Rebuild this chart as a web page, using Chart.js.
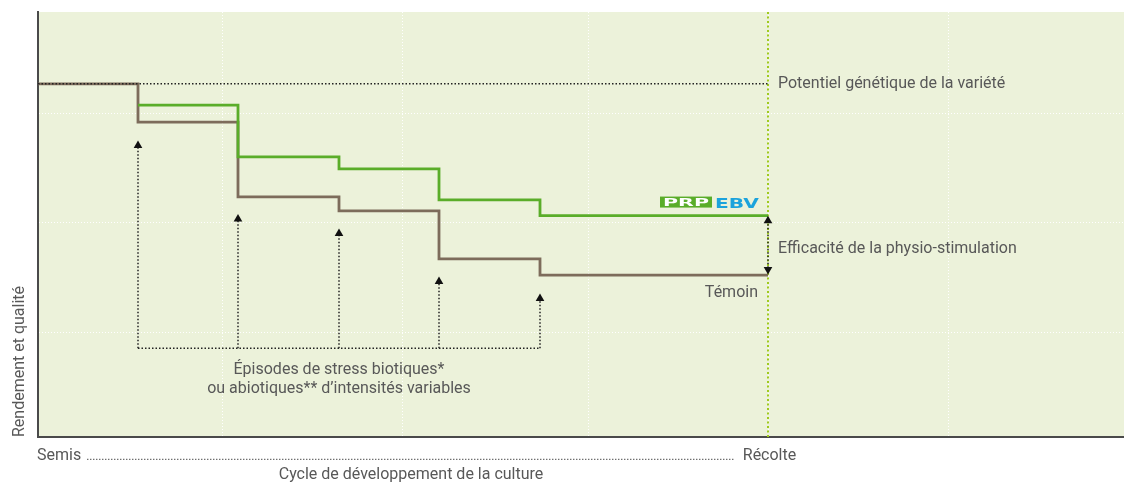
<!DOCTYPE html>
<html><head><meta charset="utf-8">
<script src="https://cdn.jsdelivr.net/npm/chart.js@4"></script>
<style>html,body{margin:0;padding:0;background:#fff}#wrap{width:1124px;height:482px;position:relative}</style>
</head><body><div id="wrap"><canvas id="c"></canvas></div>
<script>
// ---- data ----
const stageX = [0, 1, 2, 3.01, 4.01, 5.02, 7.3];
const temoin = [83.1, 74.1, 56.5, 53.2, 41.9, 38.1, 38.1];
const prpX = [1, 2, 3.01, 4.01, 5.02, 7.3];
const prpEbv = [78.1, 65.9, 63.1, 55.8, 52.1, 52.1];
const potentiel = 83.1;
const harvestX = 7.3;
const stressX = [1, 2, 3.01, 4.01, 5.02];
const stressTop = [68.6, 51.3, 47.9, 36.6, 32.6];
const bracketY = 20.9;
const effTop = 50.9;
const effBottom = 39.4;
const xGridTicks = [1.84, 3.64, 5.5, 7.3, 9.1];
const yGridTicks = [24.5, 50.4, 76.2];
const xMax = 10.86;

const TXT = '#585858';
const FONT = '"Roboto", "DejaVu Sans", sans-serif';

const pts = (xs, ys) => xs.map((x, i) => ({x, y: ys[i]}));

const datasets = [];
// potential dotted line
datasets.push({data: [{x: 0, y: potentiel}, {x: harvestX, y: potentiel}], borderColor: '#222', borderWidth: 1.5, borderDash: [1.5, 2], pointRadius: 0});
// stress arrows
stressX.forEach((x, i) => {
  datasets.push({data: [{x, y: bracketY}, {x, y: stressTop[i]}], borderColor: '#222', borderWidth: 1.5, borderDash: [1.5, 2],
    pointRadius: [0, 5], pointStyle: 'triangle', pointBackgroundColor: '#111', pointBorderWidth: 0});
});
datasets.push({data: [{x: stressX[0], y: bracketY}, {x: stressX[stressX.length - 1], y: bracketY}], borderColor: '#222', borderWidth: 1.5, borderDash: [1.5, 2], pointRadius: 0});
// efficacy double arrow
datasets.push({data: [{x: harvestX, y: effTop}, {x: harvestX, y: effBottom}], borderColor: '#222', borderWidth: 1.5, borderDash: [1.5, 2],
  pointRadius: 5, pointStyle: 'triangle', pointRotation: [0, 180], pointBackgroundColor: '#111', pointBorderWidth: 0});
// PRP EBV
datasets.push({data: pts(prpX, prpEbv), borderColor: '#5aad29', borderWidth: 2.8, stepped: 'before', pointRadius: 0});
// Témoin
datasets.push({data: pts(stageX, temoin), borderColor: '#7d6c5b', borderWidth: 2.8, stepped: 'before', pointRadius: 0});
// harvest line
datasets.push({data: [{x: harvestX, y: 0}, {x: harvestX, y: 100}], borderColor: '#9fca1e', borderWidth: 2, borderDash: [2, 2.5], pointRadius: 0});

const bgPlugin = {
  id: 'bg',
  beforeDraw(chart) {
    const {ctx, chartArea: a} = chart;
    ctx.save();
    ctx.fillStyle = '#ecf2da';
    ctx.fillRect(a.left, a.top, a.right - a.left, a.bottom - a.top);
    ctx.restore();
  }
};

const textPlugin = {
  id: 'texts',
  afterDraw(chart) {
    const {ctx, chartArea: a} = chart;
    const X = v => chart.scales.x.getPixelForValue(v);
    const Y = v => chart.scales.y.getPixelForValue(v);
    const hx = X(harvestX);
    const yG = Y(prpEbv[prpEbv.length-1]), yB = Y(temoin[temoin.length-1]);
    ctx.save();
    ctx.fillStyle = TXT;
    ctx.font = '16px ' + FONT;
    ctx.textBaseline = 'alphabetic';
    ctx.textAlign = 'left';
    ctx.fillText('Potentiel génétique de la variété', hx + 10, Y(potentiel) + 4.5);
    ctx.fillText('Efficacité de la physio-stimulation', hx + 10, (yG + yB) / 2 + 8);
    ctx.textAlign = 'right';
    ctx.fillText('Témoin', hx - 10, yB + 22);
    ctx.textAlign = 'center';
    const cx = X((stressX[0] + stressX[stressX.length-1]) / 2);
    ctx.fillText('Épisodes de stress biotiques*', cx, Y(bracketY) + 26);
    ctx.fillText('ou abiotiques** d\u2019intensités variables', cx, Y(bracketY) + 45);
    // bottom
    ctx.textAlign = 'left';
    ctx.fillText('Semis', a.left - 1, a.bottom + 23);
    const sw = ctx.measureText('Semis').width;
    ctx.textAlign = 'center';
    ctx.fillText('Récolte', hx + 1.5, a.bottom + 23);
    const rw = ctx.measureText('Récolte').width;
    ctx.fillText('Cycle de développement de la culture', X(3.73), a.bottom + 42);
    ctx.strokeStyle = '#555';
    ctx.lineWidth = 1.2;
    ctx.setLineDash([1.2, 1.8]);
    ctx.beginPath();
    ctx.moveTo(a.left + sw + 5, a.bottom + 22.4);
    ctx.lineTo(hx + 1.5 - rw / 2 - 8, a.bottom + 22.4);
    ctx.stroke();
    ctx.setLineDash([]);
    // y title
    ctx.save();
    ctx.translate(24, a.bottom);
    ctx.rotate(-Math.PI / 2);
    ctx.textAlign = 'left';
    ctx.fillText('Rendement et qualité', 0, 0);
    ctx.restore();
    // logo PRP EBV
    const right = hx - 9, bottom = yG - 8;
    const h = 11;
    const boxL = right - 99, boxR = right - 47;
    ctx.fillStyle = '#5aad29';
    ctx.fillRect(boxL, bottom - h, boxR - boxL, h);
    ctx.font = 'bold 12px "DejaVu Sans", sans-serif';
    ctx.textAlign = 'left';
    let w = ctx.measureText('PRP').width;
    ctx.save();
    ctx.translate(boxL + 3, bottom - 1.5);
    ctx.scale((boxR - boxL - 6) / w, 0.85);
    ctx.fillStyle = '#fff';
    ctx.fillText('PRP', 0, 0);
    ctx.restore();
    ctx.font = 'bold 14px "DejaVu Sans", sans-serif';
    w = ctx.measureText('EBV').width;
    ctx.save();
    ctx.translate(boxR + 3, bottom);
    ctx.scale((right - boxR - 3) / w, 1.05);
    ctx.fillStyle = '#1ba3dc';
    ctx.fillText('EBV', 0, 0);
    ctx.restore();
    ctx.restore();
  }
};

new Chart(document.getElementById('c'), {
  type: 'line',
  data: {datasets},
  options: {
    responsive: true, maintainAspectRatio: false, animation: false,
    layout: {autoPadding: false, padding: {left: 38, top: 12, right: 0, bottom: 45}},
    plugins: {legend: {display: false}, tooltip: {enabled: false}},
    scales: {
      x: {type: 'linear', min: 0, max: xMax,
        afterFit(s) { s.height = 0; },
        afterBuildTicks(s) { s.ticks = xGridTicks.map(v => ({value: v})); },
        ticks: {display: false},
        grid: {color: '#ffffff', lineWidth: 1, drawTicks: false},
        border: {display: true, color: '#4a4a4a', width: 2, dash: [1, 2]}},
      y: {type: 'linear', min: 0, max: 100,
        afterFit(s) { s.width = 0; },
        afterBuildTicks(s) { s.ticks = yGridTicks.map(v => ({value: v})); },
        ticks: {display: false},
        grid: {color: '#ffffff', lineWidth: 1, drawTicks: false},
        border: {display: true, color: '#4a4a4a', width: 2, dash: [1, 2]}}
    }
  },
  plugins: [bgPlugin, textPlugin]
});
</script></body></html>
